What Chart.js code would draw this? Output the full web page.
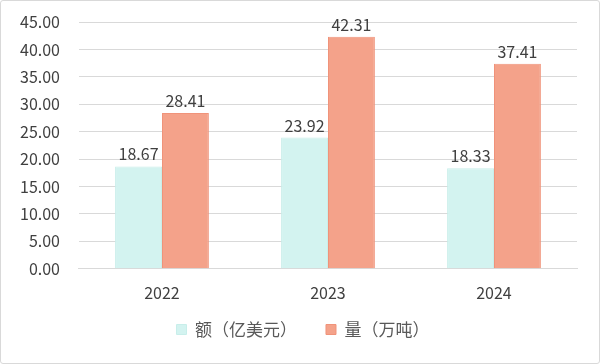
<!DOCTYPE html>
<html>
<head>
<meta charset="utf-8">
<script src="https://cdn.jsdelivr.net/npm/chart.js@4.4.1/dist/chart.umd.min.js"></script>
<style>
  html, body { margin: 0; padding: 0; background: #fff; }
  #wrap { position: relative; width: 598px; height: 362px; border: 1px solid #d9d9d9; border-radius: 3px; }
</style>
</head>
<body>
<div id="wrap"><canvas id="chart"></canvas></div>
<script>
// data
const years = ['2022', '2023', '2024'];
const amountValues = [18.67, 23.92, 18.33];
const volumeValues = [28.41, 42.31, 37.41];
const seriesNames = ['额（亿美元）', '量（万吨）'];

const fontFamily = "'Noto Sans CJK SC', 'Noto Sans', sans-serif";

// draw value labels above bars
const valueLabels = {
  id: 'valueLabels',
  afterDatasetsDraw(chart) {
    const ctx = chart.ctx;
    ctx.save();
    ctx.font = '16px ' + fontFamily;
    ctx.fillStyle = '#404040';
    ctx.textAlign = 'center';
    ctx.textBaseline = 'bottom';
    chart.data.datasets.forEach((ds, i) => {
      chart.getDatasetMeta(i).data.forEach((bar, j) => {
        ctx.fillText(ds.data[j].toFixed(2), bar.x, bar.y - 4);
      });
    });
    ctx.restore();
  }
};

// wider gap between legend items without a taller legend box
const legendShiftY = 18;
const legendShiftX = 14;
const legendGap = {
  id: 'legendGap',
  afterInit(chart) {
    const lg = chart.legend;
    const fit = lg.fit;
    lg.fit = function () { fit.call(this); this.height -= legendShiftY; };
    const draw = lg.draw;
    lg.draw = function () {
      this.top -= legendShiftY;
      this.left += legendShiftX;
      this.right += legendShiftX;
      draw.call(this);
      this.top += legendShiftY;
      this.left -= legendShiftX;
      this.right -= legendShiftX;
    };
  }
};

new Chart(document.getElementById('chart'), {
  type: 'bar',
  data: {
    labels: years,
    datasets: [
      { label: seriesNames[0], data: amountValues, backgroundColor: '#d3f3f0', borderColor: '#c8eeea', borderWidth: 1 },
      { label: seriesNames[1], data: volumeValues, backgroundColor: '#f4a28a', borderColor: '#f0937a', borderWidth: 1 }
    ]
  },
  options: {
    responsive: true,
    maintainAspectRatio: false,
    animation: false,
    layout: { padding: { top: 0, right: 22, left: 0, bottom: 15 } },
    datasets: { bar: { barPercentage: 1, categoryPercentage: 0.565 } },
    plugins: {
      legend: {
        position: 'bottom',
        labels: {
          font: { family: fontFamily, size: 17 },
          color: '#595959',
          boxWidth: 10,
          boxHeight: 10,
          padding: 29
        }
      },
      tooltip: { enabled: false }
    },
    scales: {
      x: {
        grid: { display: false },
        border: { color: '#d9d9d9' },
        ticks: { font: { family: fontFamily, size: 16 }, color: '#404040', padding: 7 }
      },
      y: {
        min: 0,
        max: 45,
        afterFit: scale => { scale.paddingTop = 21; },
        ticks: {
          stepSize: 5,
          font: { family: fontFamily, size: 16 },
          color: '#404040',
          padding: 19,
          callback: v => v.toFixed(2)
        },
        grid: { color: '#d9d9d9', drawTicks: false },
        border: { display: false }
      }
    }
  },
  plugins: [valueLabels, legendGap]
});
</script>
</body>
</html>
